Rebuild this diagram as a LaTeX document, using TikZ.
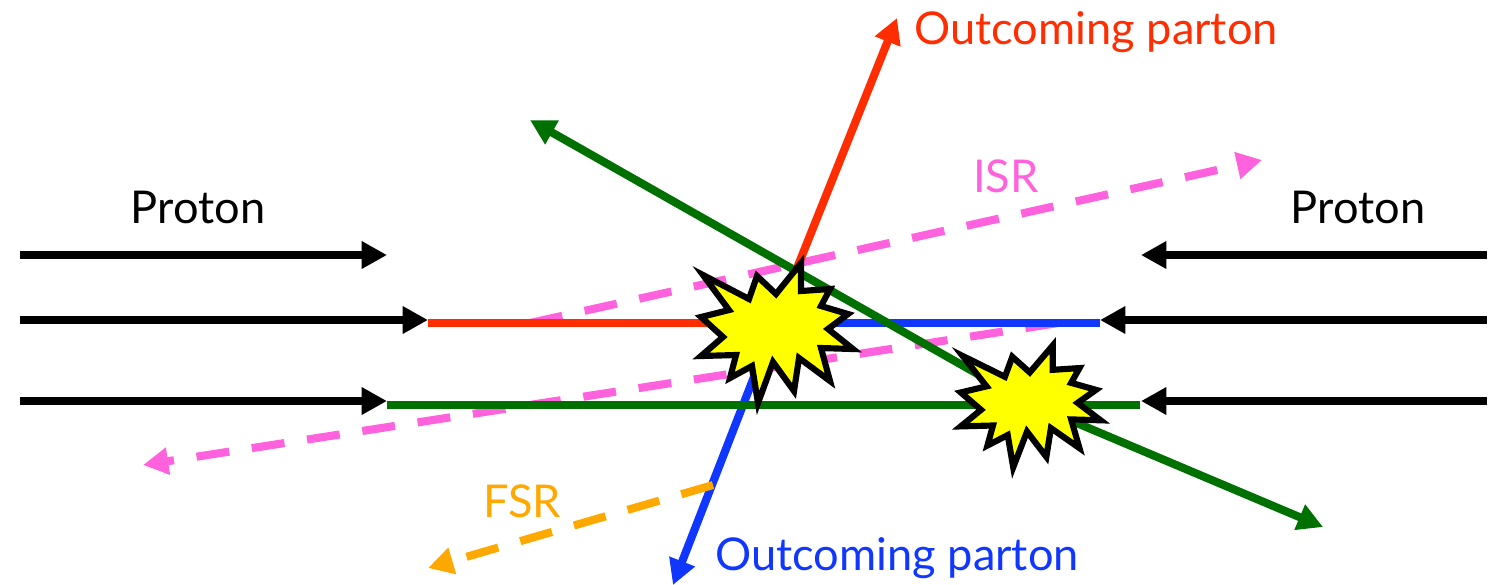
\documentclass[tikz,border=0pt]{standalone}
\usepackage{fontspec}
\setmainfont{Lato}
\usetikzlibrary{arrows.meta}
\definecolor{partonred}{HTML}{FF2D00}
\definecolor{partonblue}{HTML}{0F37FF}
\definecolor{remnantgreen}{HTML}{007000}
\definecolor{isrpink}{HTML}{FF62DC}
\definecolor{fsrorange}{HTML}{FFA800}
\definecolor{burstyellow}{RGB}{255,255,0}
\tikzset{
    beam/.style={line width=2.3pt, -{Triangle[length=7.2pt,width=7.4pt]}},
    plainbeam/.style={line width=2.3pt},
    shower/.style={beam, dash pattern=on 9.4pt off 6.5pt},
    label/.style={font=\fontsize{12.85}{15}\selectfont, inner sep=0pt},
    burst/.pic={
        \draw[line width=1.75pt, fill=burstyellow, miter limit=12]
            (-70,-53) -- (-24,-29) -- (-16,-52) -- (3,-34) -- (28,-65) -- (28,-37)
            -- (57,-39) -- (48,-22) -- (75,-14) -- (55,1) -- (80,21) -- (48,20)
            -- (57,53) -- (26,30) -- (21,63) -- (0,34) -- (-15,75) -- (-21,38)
            -- (-43,50) -- (-37,27) -- (-72,28) -- (-50,9) -- (-72,-11) -- (-44,-18) -- cycle;
    }
}

\begin{document}
\begin{tikzpicture}[x=0.01cm, y=-0.01cm]
    \useasboundingbox (0,0) rectangle (1501,584);
    % Interaction points
    \coordinate (hardA) at (773,328);
    \coordinate (hardB) at (1027,402);
    % Free ends of the lines
    \coordinate (lefttop) at (20,255);
    \coordinate (leftmid) at (20,320);
    \coordinate (leftlow) at (20,401);
    \coordinate (righttop) at (1487,255);
    \coordinate (rightmid) at (1487,320);
    \coordinate (rightlow) at (1487,401);
    \coordinate (lefttoptip) at (387,255);
    \coordinate (leftmidtip) at (428,320);
    \coordinate (leftlowtip) at (387,401);
    \coordinate (righttoptip) at (1141,255);
    \coordinate (rightmidtip) at (1100,320);
    \coordinate (rightlowtip) at (1141,401);
    \coordinate (redstart) at (428,323);
    \coordinate (redstop) at (773,323);
    \coordinate (redend) at (897,18);
    \coordinate (bluestart) at (1100,323);
    \coordinate (bluestop) at (773,323);
    \coordinate (blueend) at (673,585);
    \coordinate (greenstart) at (387,405);
    \coordinate (greenstop) at (1140,405);
    \coordinate (greenup) at (530,120);
    \coordinate (greendown) at (1323,527);
    \coordinate (isrAstart) at (530,323);
    \coordinate (isrAend) at (1262,160);
    \coordinate (isrBstart) at (1058,323);
    \coordinate (isrBend) at (143,465);
    \coordinate (fsrstart) at (713,485);
    \coordinate (fsrend) at (428,568);
    % Incoming proton lines
    \draw[beam] (lefttop) -- (lefttoptip);
    \draw[beam] (leftmid) -- (leftmidtip);
    \draw[beam] (leftlow) -- (leftlowtip);
    \draw[beam] (righttop) -- (righttoptip);
    \draw[beam] (rightmid) -- (rightmidtip);
    \draw[beam] (rightlow) -- (rightlowtip);
    % Radiation
    \draw[shower, isrpink] (isrAstart) -- (isrAend);
    \draw[shower, isrpink] (isrBstart) -- (isrBend);
    % Partons
    \draw[plainbeam, partonred] (redstart) -- (redstop);
    \draw[beam, partonred] (hardA) -- (redend);
    \draw[plainbeam, partonblue] (bluestart) -- (bluestop);
    \draw[beam, partonblue] (hardA) -- (blueend);
    \draw[shower, fsrorange] (fsrstart) -- (fsrend);
    % Second interaction
    \draw[plainbeam, remnantgreen] (greenstart) -- (greenstop);
    \draw[beam, remnantgreen] (hardB) -- (greenup);
    \draw[beam, remnantgreen] (hardB) -- (greendown);
    % Bursts
    \pic at (hardA) {burst};
    \pic[xscale=0.92, yscale=0.87] at (hardB) {burst};
    % Labels
    \node[label] (protonleft) at (198,207) {Proton};
    \node[label] (protonright) at (1358,207) {Proton};
    \node[label, isrpink] (isr) at (1006,176) {ISR};
    \node[label, fsrorange] (fsr) at (522,501) {FSR};
    \node[label, partonred] (partonup) at (1096,32) {Outcoming parton};
    \node[label, partonblue] (partondown) at (897,558) {Outcoming parton};
\end{tikzpicture}
\end{document}
